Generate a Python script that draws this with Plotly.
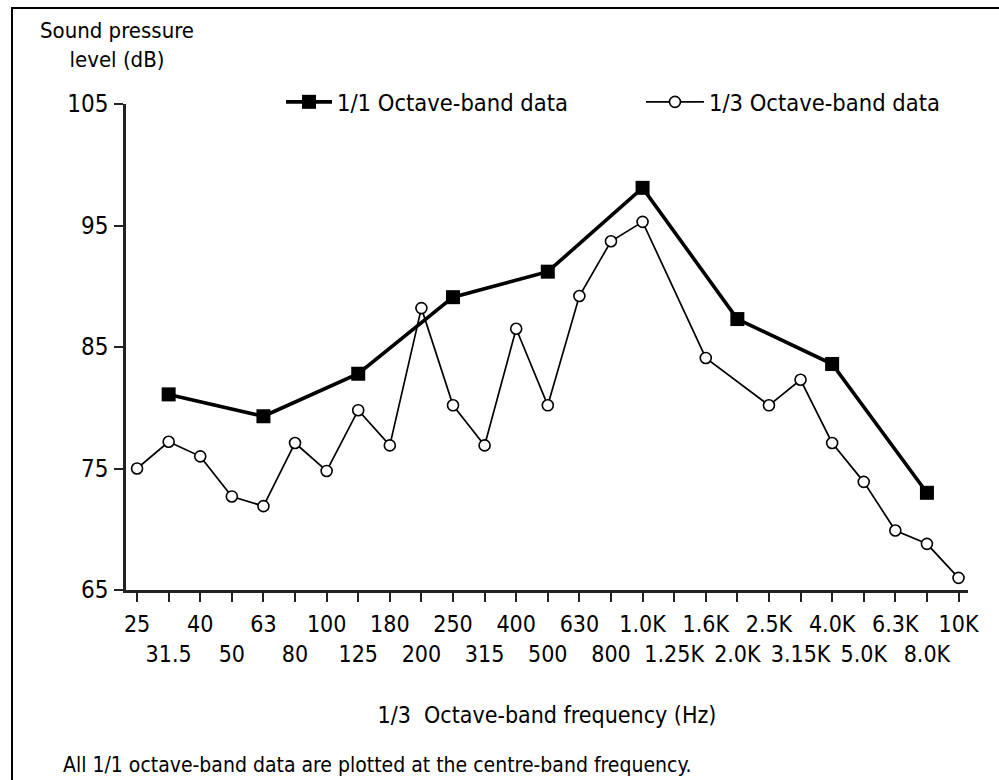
import plotly.graph_objects as go

# 1/3 octave-band centre frequencies (category order along the x axis)
bands = ["25", "31.5", "40", "50", "63", "80", "100", "125", "160", "200",
         "250", "315", "400", "500", "630", "800", "1.0K", "1.25K", "1.6K",
         "2.0K", "2.5K", "3.15K", "4.0K", "5.0K", "6.3K", "8.0K", "10K"]

# Tick labels as printed under the axis
band_labels = ["25", "31.5", "40", "50", "63", "80", "100", "125", "180", "200",
               "250", "315", "400", "500", "630", "800", "1.0K", "1.25K", "1.6K",
               "2.0K", "2.5K", "3.15K", "4.0K", "5.0K", "6.3K", "8.0K", "10K"]

# 1/3 octave-band sound pressure levels (dB); no reading at 1.25K and 2.0K
third_octave_db = [75.0, 77.2, 76.0, 72.7, 71.9, 77.1, 74.8, 79.8, 76.9, 88.2,
                   80.2, 76.9, 86.5, 80.2, 89.2, 93.7, 95.3, None, 84.1,
                   None, 80.2, 82.3, 77.1, 73.9, 69.9, 68.8, 66.0]

# 1/1 octave-band levels, plotted at the octave centre frequencies
octave_bands = ["31.5", "63", "125", "250", "500", "1.0K", "2.0K", "4.0K", "8.0K"]
octave_db = [81.1, 79.3, 82.8, 89.1, 91.2, 98.1, 87.3, 83.6, 73.0]

y_ticks = [65, 75, 85, 95, 105]

FONT = "DejaVu Sans Condensed, DejaVu Sans, sans-serif"

# alternate the tick labels between an upper and a lower row
tick_text = [lab if i % 2 == 0 else "&nbsp;<br>" + lab
             for i, lab in enumerate(band_labels)]

fig = go.Figure()

fig.add_trace(go.Scatter(
    x=octave_bands, y=octave_db,
    mode="lines+markers",
    name="1/1 Octave-band data",
    legend="legend",
    line=dict(color="black", width=3.6),
    marker=dict(symbol="square", size=14, color="black"),
))

fig.add_trace(go.Scatter(
    x=bands, y=third_octave_db,
    mode="lines+markers",
    name="1/3 Octave-band data",
    legend="legend2",
    connectgaps=True,
    line=dict(color="black", width=1.7),
    marker=dict(symbol="circle", size=11, color="white",
                line=dict(color="black", width=1.6)),
))

legend_font = dict(family=FONT, size=23.5, color="black")

fig.update_layout(
    width=999, height=780,
    margin=dict(l=126, r=31, t=104, b=190, autoexpand=False),
    paper_bgcolor="white", plot_bgcolor="white",
    font=dict(family=FONT, size=24, color="black"),
    showlegend=True,
    legend=dict(
        orientation="h", x=0.1841, y=1.004,
        xanchor="left", yanchor="middle",
        bgcolor="rgba(0,0,0,0)", font=legend_font, itemwidth=46,
    ),
    legend2=dict(
        orientation="h", x=0.6116, y=1.004,
        xanchor="left", yanchor="middle",
        bgcolor="rgba(0,0,0,0)", font=legend_font, itemwidth=58,
    ),
    xaxis=dict(
        type="category",
        categoryorder="array", categoryarray=bands,
        range=[-0.35, 26.3],
        tickmode="array", tickvals=bands, ticktext=tick_text,
        tickangle=0,
        ticks="outside", ticklen=9, tickwidth=2, tickcolor="#222",
        showline=True, linecolor="#222", linewidth=2.5,
        showgrid=False, zeroline=False,
        tickfont=dict(family=FONT, size=23, color="black"),
        ticklabelstandoff=3,
        title=dict(text="1/3&nbsp;&nbsp;Octave-band frequency (Hz)",
                   font=dict(family=FONT, size=23, color="black"),
                   standoff=41),
    ),
    yaxis=dict(
        range=[65, 105],
        tickmode="array", tickvals=y_ticks,
        ticks="outside", ticklen=9, tickwidth=2, tickcolor="#222",
        showline=True, linecolor="#222", linewidth=2.5,
        showgrid=False, zeroline=False,
        tickfont=dict(family=FONT, size=24, color="black"),
        ticklabelstandoff=1,
    ),
)

# y-axis caption above the tick labels
fig.add_annotation(
    text="Sound pressure<br>level (dB)",
    xref="paper", yref="paper", x=-0.011, y=1.122,
    xanchor="center", yanchor="middle", showarrow=False,
    font=dict(family=FONT, size=22, color="black"),
)

# footnote under the axis title
fig.add_annotation(
    text="All 1/1 octave-band data are plotted at the centre-band frequency.",
    xref="paper", yref="paper", x=-0.077, y=-0.36,
    xanchor="left", yanchor="middle", showarrow=False,
    font=dict(family=FONT, size=21, color="black"),
)

# frame around the figure (left and top edges visible)
fig.add_shape(
    type="rect", xref="paper", yref="paper",
    x0=-0.1354, x1=1.3, y0=-0.6, y1=1.1975,
    line=dict(color="black", width=2), fillcolor="rgba(0,0,0,0)",
    layer="below",
)

fig.write_html("out.html")
